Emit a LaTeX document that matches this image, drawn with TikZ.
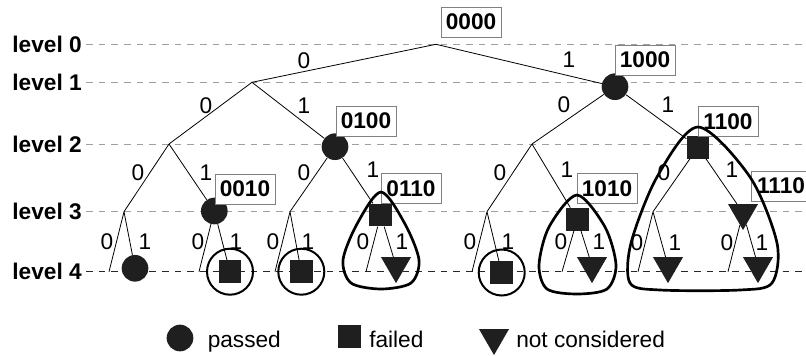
\documentclass[tikz,border=0pt]{standalone}
\usepackage{fontspec}
\setmainfont{Liberation Sans}
\usetikzlibrary{shapes.geometric,positioning}

\newcommand{\figfont}{\fontsize{17}{20}\selectfont}

\tikzset{
	pass/.style={circle,fill=black!88,minimum size=20pt,inner sep=0pt},
	fail/.style={rectangle,fill=black!88,minimum size=17pt,inner sep=0pt},
	nocon/.style={regular polygon,regular polygon sides=3,shape border rotate=180,fill=black!88,minimum size=26pt,inner sep=0pt},
	code/.style={draw=gray,fill=white,font=\figfont\bfseries,minimum width=45pt,minimum height=22.5pt,inner sep=0pt},
	lvl/.style={anchor=east,font=\figfont\bfseries,inner sep=0pt},
	bit/.style={inner sep=0pt},
	guide/.style={draw=gray!75,line width=.6pt,dash pattern=on 5pt off 4.5pt},
	branch/.style={line width=.6pt},
	ring/.style={circle,draw,line width=1.5pt,minimum size=34.5pt,inner sep=0pt},
	grp/.style={line width=2pt},
	legtxt/.style={anchor=base west,inner sep=0pt}
}

\begin{document}
\begin{tikzpicture}[x=0.75pt,y=-0.75pt,font=\figfont]
	\useasboundingbox (0,0) rectangle (806,356);
	
	% levels
	\foreach \n/\y in {0/44.3,1/82.3,2/144,3/211.7}
	{
		\node[lvl] (l\n) at (82,\y) {level \n};
		\draw[guide] (86,\y) -- (806,\y);
	}
	\node[lvl] (l4) at (82,271.7) {level 4};
	\draw[guide,draw=black!85] (86,271.7) -- (806,271.7);
	
	% tree
	\coordinate (p) at (436,44.3);
	\coordinate (p0) at (252,82.3);
	\node[pass] (p1) at (615,86.7) {};
	
	\coordinate (p00) at (169,144);
	\node[pass] (p01) at (335,146.7) {};
	\coordinate (p10) at (532,144);
	\node[fail] (p11) at (698,147.2) {};
	
	\coordinate (p000) at (124,211.7);
	\node[pass] (p001) at (214.3,211) {};
	\coordinate (p010) at (290,211.7);
	\node[fail] (p011) at (380.7,215) {};
	\coordinate (p100) at (487,211.7);
	\node[fail] (p101) at (577.3,219.2) {};
	\coordinate (p110) at (653,211.7);
	\node[nocon] (p111) at (743,212.7) {};
	
	\coordinate (p0000) at (109,271.7);
	\node[pass] (p0001) at (135,268.3) {};
	\coordinate (p0010) at (199,271.7);
	\node[fail] (p0011) at (230,271.7) {};
	\coordinate (p0100) at (275,271.7);
	\node[fail] (p0101) at (301.3,271.7) {};
	\coordinate (p0110) at (366,271.7);
	\node[nocon] (p0111) at (396,265.8) {};
	\coordinate (p1000) at (472,271.7);
	\node[fail] (p1001) at (501.7,272.5) {};
	\coordinate (p1010) at (562,271.7);
	\node[nocon] (p1011) at (592,265.8) {};
	\coordinate (p1100) at (638,271.7);
	\node[nocon] (p1101) at (668,265.8) {};
	\coordinate (p1110) at (728,271.7);
	\node[nocon] (p1111) at (758,265.8) {};
	
	\draw[branch] (p) -- (p0) (p) -- (p1);
	\draw[branch] (p0) -- (p00) (p0) -- (p01);
	\draw[branch] (p1) -- (p10) (p1) -- (p11);
	\draw[branch] (p00) -- (p000) (p00) -- (p001);
	\draw[branch] (p01) -- (p010) (p01) -- (p011);
	\draw[branch] (p10) -- (p100) (p10) -- (p101);
	\draw[branch] (p11) -- (p110) (p11) -- (p111);
	\draw[branch] (p000) -- (p0000) (p000) -- (p0001);
	\draw[branch] (p001) -- (p0010) (p001) -- (p0011);
	\draw[branch] (p010) -- (p0100) (p010) -- (p0101);
	\draw[branch] (p011) -- (p0110) (p011) -- (p0111);
	\draw[branch] (p100) -- (p1000) (p100) -- (p1001);
	\draw[branch] (p101) -- (p1010) (p101) -- (p1011);
	\draw[branch] (p110) -- (p1100) (p110) -- (p1101);
	\draw[branch] (p111) -- (p1110) (p111) -- (p1111);
	
	% branch bits
	\foreach \x/\y/\b [count=\i] in {304/61/0,569/60/1,
		206/106/0,304/106/1,564/105/0,668/105/1,
		138/173/0,206/173/1,304/173/0,373/170/1,500/173/0,567/170/1,664/173/0,732/170/1,
		107/242/0,145/242/1,198/242/0,236/242/1,273/242/0,308/242/1,363/242/0,402/242/1,
		470/242/0,508/242/1,561/242/0,599/242/1,637/243/0,675/243/1,727/243/0,762/243/1}
	{
		\node[bit] (b\i) at (\x,\y) {\b};
	}
	
	% codes
	\node[code] (k0000) at (471,22) {0000};
	\node[code] (k1000) at (645,60) {1000};
	\node[code] (k0100) at (366,121) {0100};
	\node[code] (k1100) at (728,121.5) {1100};
	\node[code] (k0010) at (245,189) {0010};
	\node[code] (k0110) at (411,188.5) {0110};
	\node[code] (k1010) at (607,188.3) {1010};
	\node[code] (k1110) at (781,186) {1110};
	
	% groups
	\node[ring] (o0011) at (p0011) {};
	\node[ring] (o0101) at (p0101) {};
	\node[ring] (o1001) at (p1001) {};
	\draw[grp] plot[smooth cycle] coordinates {(381,192) (405,224) (419,260) (411,283) (381,289) (351,283) (343,260) (357,224)};
	\draw[grp] plot[smooth cycle] coordinates {(577,195) (605,227) (616,265) (607,289) (577,294) (547,289) (539,265) (549,227)};
	\draw[grp] plot[smooth cycle] coordinates {(698,127) (750,177) (777,243) (772,283) (740,290) (660,290) (630,283) (631,243) (657,177)};
	
	% legend
	\node[pass] (kp) at (180,338) {};
	\node[legtxt] (tp) at (207.5,347) {passed};
	\node[fail] (kf) at (349.5,336.5) {};
	\node[legtxt] (tf) at (369,347) {failed};
	\node[nocon] (kn) at (494,337.7) {};
	\node[legtxt] (tn) at (516,347) {not considered};
\end{tikzpicture}
\end{document}
